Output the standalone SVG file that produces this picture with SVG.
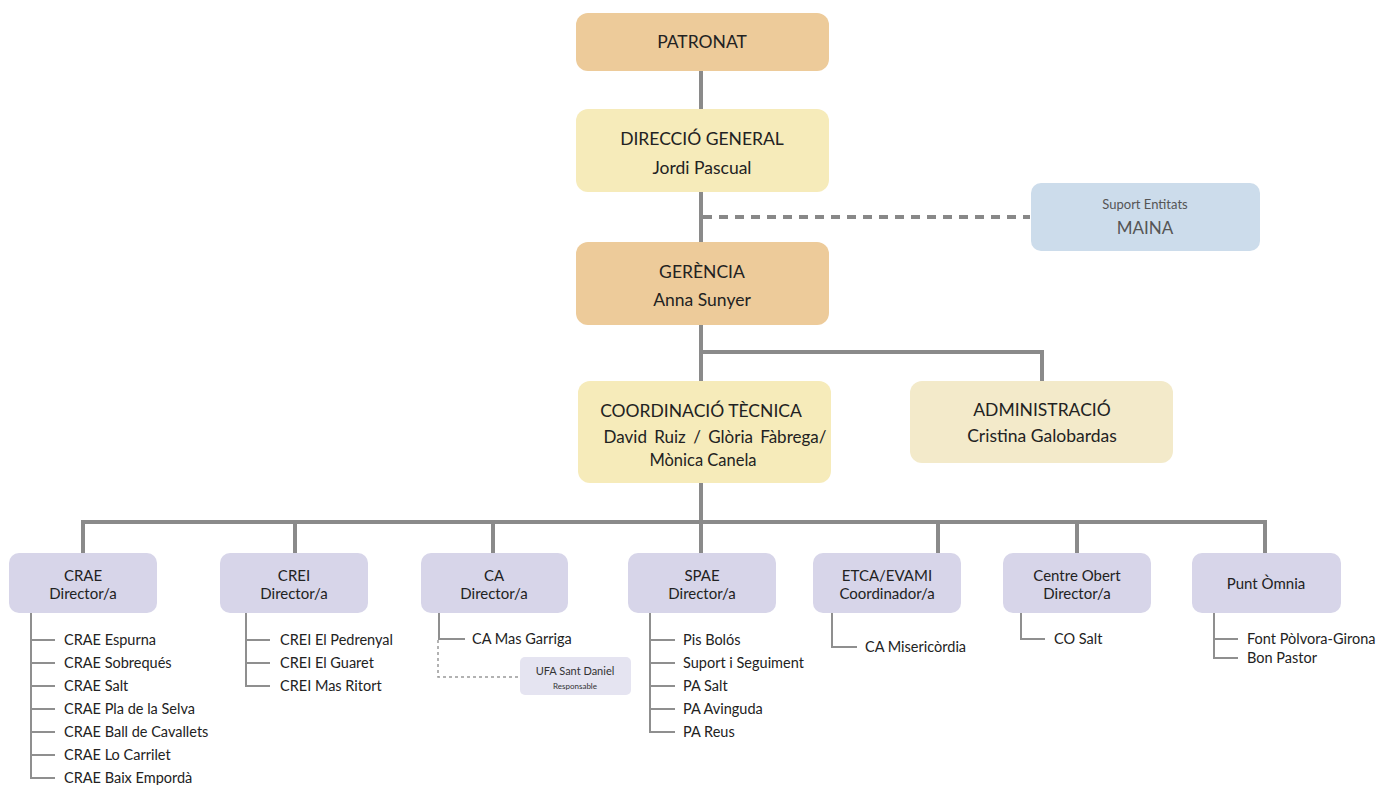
<svg xmlns="http://www.w3.org/2000/svg" width="1394" height="785" viewBox="0 0 1394 785">
<style>
text{font-family:Lato,"Noto Sans","Liberation Sans",sans-serif;fill:#222;text-anchor:middle}
.t{font-size:17.5px}
.b{font-size:15px}
.l{font-size:14.5px;text-anchor:start}
.c{fill:none;stroke:#8a8a8a;stroke-width:4}
.s{fill:none;stroke:#8f8f8f;stroke-width:2}
.d{fill:none;stroke:#888;stroke-width:4;stroke-dasharray:9 7}
.dd{fill:none;stroke:#999;stroke-width:1.5;stroke-dasharray:3 3}
.or{fill:#EDCB9A}
.ye{fill:#F6EBBA}
.ad{fill:#F3EACA}
.bl{fill:#CCDCEB}
.pu{fill:#D7D5E9}
.pl{fill:#E5E4F1}
</style>
<rect width="1394" height="785" fill="#fff"/>
<g id="connectors">
<path class="c" d="M701 71V109M701 192V242M701 325V381M701 352H1042V381M701 483V553M83 522H1265M83 520V553M295 520V553M493 520V553M938 520V553M1077 520V553M1265 520V553"/>
<path class="d" d="M703 217H1030"/>
<path class="s" d="M31 613V778H55M31 640H55M31 663H55M31 686H55M31 709H55M31 732H55M31 755H55"/>
<path class="s" d="M246 613V686H270M246 640H270M246 663H270"/>
<path class="s" d="M439 613V639H465"/>
<path class="dd" d="M438 640V677H519"/>
<path class="s" d="M650 613V732H675M650 640H675M650 663H675M650 686H675M650 709H675"/>
<path class="s" d="M832 613V647H857"/>
<path class="s" d="M1021 613V639H1045"/>
<path class="s" d="M1214 613V658H1238M1214 639H1238"/>
</g>
<g id="patronat"><rect class="or" x="576" y="13" width="253" height="58" rx="12"/><text class="t" x="702" y="48">PATRONAT</text></g>
<g id="direccio"><rect class="ye" x="576" y="109" width="253" height="83" rx="12"/><text class="t" x="702" y="145">DIRECCIÓ GENERAL</text><text class="t" x="702" y="174">Jordi Pascual</text></g>
<g id="maina"><rect class="bl" x="1031" y="183" width="229" height="68" rx="10"/><text x="1145" y="209" style="font-size:13px;fill:#555">Suport Entitats</text><text x="1145" y="234" style="font-size:17px;fill:#555">MAINA</text></g>
<g id="gerencia"><rect class="or" x="576" y="242" width="253" height="83" rx="12"/><text class="t" x="702" y="278">GERÈNCIA</text><text class="t" x="702" y="306">Anna Sunyer</text></g>
<g id="coordinacio"><rect class="ye" x="578" y="381" width="253" height="102" rx="12"/><text class="t" x="701" y="417">COORDINACIÓ TÈCNICA</text><text x="715" y="443" style="font-size:17px;word-spacing:3px">David Ruiz / Glòria Fàbrega/</text><text x="703" y="466" style="font-size:16.5px">Mònica Canela</text></g>
<g id="administracio"><rect class="ad" x="910" y="381" width="263" height="82" rx="12"/><text class="t" x="1042" y="416">ADMINISTRACIÓ</text><text class="t" x="1042" y="442">Cristina Galobardas</text></g>
<g id="crae"><rect class="pu" x="9" y="553" width="148" height="60" rx="10"/><text class="b" x="83" y="581">CRAE</text><text class="b" x="83" y="599">Director/a</text>
<text class="l" x="64" y="645">CRAE Espurna</text><text class="l" x="64" y="668">CRAE Sobrequés</text><text class="l" x="64" y="691">CRAE Salt</text><text class="l" x="64" y="714">CRAE Pla de la Selva</text><text class="l" x="64" y="737">CRAE Ball de Cavallets</text><text class="l" x="64" y="760">CRAE Lo Carrilet</text><text class="l" x="64" y="783">CRAE Baix Empordà</text></g>
<g id="crei"><rect class="pu" x="220" y="553" width="148" height="60" rx="10"/><text class="b" x="294" y="581">CREI</text><text class="b" x="294" y="599">Director/a</text>
<text class="l" x="280" y="645">CREI El Pedrenyal</text><text class="l" x="280" y="668">CREI El Guaret</text><text class="l" x="280" y="691">CREI Mas Ritort</text></g>
<g id="ca"><rect class="pu" x="421" y="553" width="147" height="60" rx="10"/><text class="b" x="494" y="581">CA</text><text class="b" x="494" y="599">Director/a</text>
<text class="l" x="472" y="644">CA Mas Garriga</text></g>
<g id="ufa"><rect class="pl" x="520" y="657" width="111" height="38" rx="5"/><text x="575" y="675" style="font-size:11px;fill:#333">UFA Sant Daniel</text><text x="575" y="689" style="font-size:8px;fill:#333">Responsable</text></g>
<g id="spae"><rect class="pu" x="628" y="553" width="148" height="60" rx="10"/><text class="b" x="702" y="581">SPAE</text><text class="b" x="702" y="599">Director/a</text>
<text class="l" x="683" y="645">Pis Bolós</text><text class="l" x="683" y="668">Suport i Seguiment</text><text class="l" x="683" y="691">PA Salt</text><text class="l" x="683" y="714">PA Avinguda</text><text class="l" x="683" y="737">PA Reus</text></g>
<g id="etca"><rect class="pu" x="813" y="553" width="148" height="60" rx="10"/><text class="b" x="887" y="581">ETCA/EVAMI</text><text class="b" x="887" y="599">Coordinador/a</text>
<text class="l" x="865" y="652">CA Misericòrdia</text></g>
<g id="centreobert"><rect class="pu" x="1003" y="553" width="148" height="60" rx="10"/><text class="b" x="1077" y="581">Centre Obert</text><text class="b" x="1077" y="599">Director/a</text>
<text class="l" x="1054" y="644">CO Salt</text></g>
<g id="puntomnia"><rect class="pu" x="1192" y="553" width="149" height="60" rx="10"/><text class="b" x="1266" y="589">Punt Òmnia</text>
<text class="l" x="1247" y="644">Font Pòlvora-Girona</text><text class="l" x="1247" y="663">Bon Pastor</text></g>
</svg>
